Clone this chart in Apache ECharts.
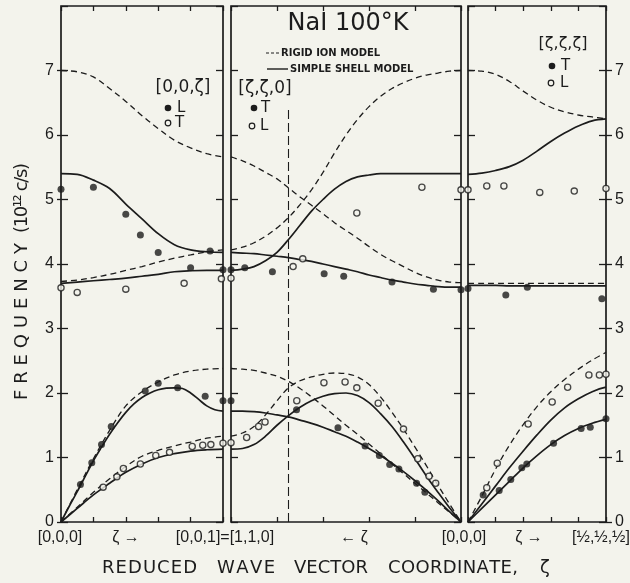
<!DOCTYPE html>
<html>
<head>
<meta charset="utf-8">
<script src="https://cdn.jsdelivr.net/npm/echarts@6/dist/echarts.min.js"></script>
<style>
  html, body { margin: 0; padding: 0; background: #f3f3ec; }
  #chart { width: 630px; height: 583px; }
</style>
</head>
<body>
<div id="chart"></div>
<script>
// NaI at 100 K: phonon dispersion along [0,0,ζ], [ζ,ζ,0] and [ζ,ζ,ζ]
// Curves: rigid ion model (dashed) and simple shell model (solid); points: measured.

// ---------- [0,0,ζ] ----------
const zeta100 = [0, 0.1, 0.2, 0.3, 0.4, 0.5, 0.6, 0.7, 0.8, 0.9, 1.0];
const lo100Rigid = [7.0, 6.98, 6.9, 6.72, 6.52, 6.3, 6.1, 5.92, 5.8, 5.71, 5.66];
const lo100Shell = [5.4, 5.39, 5.3, 5.17, 4.93, 4.70, 4.47, 4.30, 4.22, 4.19, 4.18];
const to100Rigid = [3.73, 3.75, 3.79, 3.84, 3.9, 3.96, 4.03, 4.09, 4.14, 4.19, 4.22];
const to100Shell = [3.70, 3.72, 3.74, 3.76, 3.78, 3.81, 3.84, 3.88, 3.895, 3.90, 3.90];
const la100Rigid = [0, 0.5, 0.98, 1.42, 1.8, 2.02, 2.17, 2.28, 2.34, 2.37, 2.38];
const ta100Rigid = [0, 0.23, 0.46, 0.67, 0.86, 1.02, 1.11, 1.18, 1.24, 1.30, 1.33];
const ta100Shell = [0, 0.21, 0.42, 0.6, 0.77, 0.9, 1.0, 1.06, 1.1, 1.12, 1.13];
const zeta100Fine = [0, 0.05, 0.1, 0.15, 0.2, 0.25, 0.3, 0.35, 0.4, 0.45, 0.5,
                     0.55, 0.6, 0.65, 0.7, 0.75, 0.8, 0.85, 0.9, 0.95, 1.0];
const la100Shell = [0, 0.24, 0.47, 0.71, 0.95, 1.16, 1.36, 1.54, 1.7, 1.83, 1.93,
                    2.0, 2.05, 2.075, 2.08, 2.07, 2.0, 1.9, 1.8, 1.74, 1.72];
const meas100LongZeta = [0.0, 0.2, 0.4, 0.49, 0.6, 0.8, 0.92, 1.0,
                         0.12, 0.19, 0.25, 0.31, 0.52, 0.6, 0.72, 0.89, 1.0];
const meas100LongFreq = [5.16, 5.19, 4.77, 4.45, 4.18, 3.94, 4.20, 3.91,
                         0.58, 0.92, 1.2, 1.48, 2.03, 2.15, 2.08, 1.95, 1.88];
const meas100TransZeta = [0.0, 0.1, 0.4, 0.76, 0.99,
                          0.26, 0.345, 0.385, 0.49, 0.585, 0.67, 0.81, 0.875, 0.925, 1.0];
const meas100TransFreq = [3.63, 3.56, 3.61, 3.70, 3.77,
                          0.54, 0.70, 0.83, 0.90, 1.03, 1.08, 1.17, 1.19, 1.20, 1.22];

// ---------- [ζ,ζ,0] (ζ runs from 1 down to 0) ----------
const zeta110 = [1.0, 0.95, 0.9, 0.85, 0.8, 0.75, 0.7, 0.65, 0.6, 0.55, 0.5,
                 0.45, 0.4, 0.35, 0.3, 0.25, 0.2, 0.15, 0.1, 0.05, 0];
const lo110Rigid = [4.22, 4.26, 4.33, 4.43, 4.56, 4.72, 4.92, 5.15, 5.42, 5.72, 6.0,
                    6.24, 6.44, 6.6, 6.72, 6.81, 6.88, 6.93, 6.96, 6.99, 7.0];
const to110Rigid = [5.66, 5.6, 5.52, 5.42, 5.32, 5.18, 5.04, 4.91, 4.78, 4.64, 4.52,
                    4.4, 4.27, 4.15, 4.05, 3.96, 3.87, 3.8, 3.75, 3.72, 3.71];
const lo110Shell = [3.90, 3.92, 3.96, 4.05, 4.18, 4.38, 4.6, 4.82, 5.0, 5.16, 5.28,
                    5.35, 5.38, 5.4, 5.4, 5.4, 5.4, 5.4, 5.4, 5.4, 5.4];
const to110Shell = [4.18, 4.17, 4.16, 4.14, 4.12, 4.10, 4.07, 4.04, 4.0, 3.96, 3.92,
                    3.88, 3.83, 3.79, 3.75, 3.72, 3.69, 3.67, 3.65, 3.64, 3.64];
const la110Rigid = [1.33, 1.38, 1.48, 1.66, 1.88, 2.08, 2.19, 2.25, 2.29, 2.31, 2.3,
                    2.25, 2.13, 1.94, 1.7, 1.44, 1.16, 0.87, 0.57, 0.28, 0];
const ta110Rigid = [2.38, 2.37, 2.35, 2.31, 2.26, 2.18, 2.07, 1.94, 1.8, 1.65, 1.5,
                    1.36, 1.21, 1.06, 0.9, 0.75, 0.6, 0.45, 0.3, 0.15, 0];
const la110Shell = [1.13, 1.14, 1.2, 1.33, 1.5, 1.65, 1.78, 1.88, 1.95, 1.99, 2.0,
                    1.96, 1.85, 1.68, 1.48, 1.24, 0.98, 0.71, 0.46, 0.22, 0];
const ta110Shell = [1.72, 1.72, 1.71, 1.69, 1.66, 1.63, 1.58, 1.53, 1.47, 1.4, 1.33,
                    1.24, 1.14, 1.03, 0.91, 0.78, 0.64, 0.49, 0.33, 0.16, 0];
const meas110TransZeta = [1.0, 0.94, 0.82, 0.595, 0.51, 0.3, 0.12, 0.0,
                          1.0, 0.715, 0.535, 0.417, 0.355, 0.31, 0.27, 0.193, 0.157];
const meas110TransFreq = [3.91, 3.94, 3.88, 3.85, 3.81, 3.72, 3.61, 3.60,
                          1.88, 1.74, 1.46, 1.18, 1.03, 0.89, 0.82, 0.6, 0.46];
const meas110LongZeta = [1.0, 0.73, 0.688, 0.453, 0.17, 0.0,
                         1.0, 0.932, 0.88, 0.852, 0.714, 0.596, 0.504, 0.453, 0.36, 0.25, 0.188, 0.139, 0.11];
const meas110LongFreq = [3.78, 3.96, 4.08, 4.79, 5.19, 5.15,
                         1.23, 1.31, 1.48, 1.55, 1.88, 2.16, 2.17, 2.08, 1.84, 1.44, 0.98, 0.71, 0.60];
const zoneEdgeZeta = 0.75;   // K point marker
const zoneEdgeTop = 6.4;

// ---------- [ζ,ζ,ζ] ----------
const zeta111 = [0, 0.05, 0.1, 0.15, 0.2, 0.25, 0.3, 0.35, 0.4, 0.45, 0.5];
const lo111Rigid = [7.0, 6.99, 6.94, 6.83, 6.68, 6.54, 6.43, 6.36, 6.31, 6.28, 6.25];
const lo111Shell = [5.39, 5.41, 5.45, 5.51, 5.61, 5.75, 5.9, 6.03, 6.14, 6.22, 6.25];
const to111Rigid = [3.70, 3.70, 3.70, 3.70, 3.70, 3.70, 3.70, 3.70, 3.70, 3.70, 3.70];
const to111Shell = [3.67, 3.67, 3.67, 3.66, 3.66, 3.66, 3.66, 3.66, 3.66, 3.66, 3.66];
const la111Rigid = [0, 0.4, 0.82, 1.19, 1.51, 1.79, 2.02, 2.21, 2.37, 2.51, 2.63];
const la111Shell = [0, 0.28, 0.56, 0.84, 1.1, 1.35, 1.58, 1.77, 1.91, 2.02, 2.09];
const ta111Shell = [0, 0.21, 0.42, 0.63, 0.84, 1.03, 1.2, 1.34, 1.45, 1.53, 1.59];
const meas111TransZeta = [0.0, 0.137, 0.215, 0.485,
                          0.055, 0.113, 0.155, 0.195, 0.213, 0.31, 0.41, 0.443, 0.5];
const meas111TransFreq = [3.62, 3.52, 3.64, 3.46,
                          0.42, 0.49, 0.66, 0.84, 0.9, 1.22, 1.45, 1.47, 1.6];
const meas111LongZeta = [0.0, 0.068, 0.13, 0.26, 0.385, 0.5,
                         0.068, 0.106, 0.218, 0.305, 0.361, 0.438, 0.476, 0.5];
const meas111LongFreq = [5.15, 5.21, 5.21, 5.11, 5.13, 5.17,
                         0.53, 0.91, 1.52, 1.86, 2.09, 2.28, 2.28, 2.29];

// ---------- texts ----------
const titleText = 'NaI 100°K';
const legendRigid = 'RIGID ION MODEL';
const legendShell = 'SIMPLE SHELL MODEL';
const pointLabels = ['[0,0,0]', 'ζ →', '[0,0,1]=[1,1,0]', '← ζ', '[0,0,0]', 'ζ →', '[½,½,½]'];
const yTitleParts = ['FREQUENCY', '(10¹² c/s)'];
const xTitleWords = ['REDUCED', 'WAVE', 'VECTOR', 'COORDINATE,', 'ζ'];

// ---------- drawing ----------
const ink = '#1c1c1c';
const paper = '#f3f3ec';
const chart = echarts.init(document.getElementById('chart'), null, { renderer: 'canvas' });

const grids = [
  { left: 61, top: 6, width: 162, height: 516 },
  { left: 231, top: 6, width: 230, height: 516 },
  { left: 468, top: 6, width: 138, height: 516 }
].map(g => Object.assign(g, { show: true, borderColor: ink, borderWidth: 1.7, backgroundColor: 'transparent' }));

const xSpec = [
  { min: 0, max: 1, interval: 0.2, inverse: false },
  { min: 0, max: 1, interval: 0.2, inverse: true },
  { min: 0, max: 0.5, interval: 0.1, inverse: false }
];
const xAxes = [];
xSpec.forEach((s, i) => {
  ['bottom', 'top'].forEach(pos => {
    xAxes.push({
      gridIndex: i, type: 'value', position: pos, min: s.min, max: s.max, interval: s.interval, inverse: s.inverse,
      axisLine: { show: false, onZero: false },
      axisTick: { show: true, inside: true, length: 5, lineStyle: { color: ink, width: 1.3 } },
      axisLabel: { show: false }, splitLine: { show: false }
    });
  });
});

function yAxisDef(gi, pos, opts) {
  return Object.assign({
    gridIndex: gi, type: 'value', position: pos, min: 0, max: 8, interval: 1,
    axisLine: { show: false, onZero: false },
    axisTick: { show: true, inside: true, length: 7, lineStyle: { color: ink, width: 1.3 } },
    axisLabel: { show: false }, splitLine: { show: false }
  }, opts || {});
}
const tickFont = { color: ink, fontSize: 16, fontFamily: 'Liberation Sans', showMaxLabel: false };
const yAxes = [
  yAxisDef(0, 'left', { axisTick: { show: true, inside: false, length: 4, lineStyle: { color: ink, width: 1.3 } },
                        axisLabel: Object.assign({ show: true, margin: 7 }, tickFont) }),
  yAxisDef(0, 'left'),
  yAxisDef(0, 'right'),
  yAxisDef(1, 'left'),
  yAxisDef(1, 'right'),
  yAxisDef(2, 'left'),
  yAxisDef(2, 'right'),
  yAxisDef(2, 'right', { axisTick: { show: true, inside: false, length: 6, lineStyle: { color: ink, width: 1.3 } },
                         axisLabel: Object.assign({ show: true, margin: 9 }, tickFont) })
];
const xIdx = [0, 2, 4];
const yIdx = [1, 3, 5];

const zip = (xs, ys) => xs.map((x, i) => [x, ys[i]]);

function curve(gi, xs, ys, dashed) {
  return {
    type: 'line', xAxisIndex: xIdx[gi], yAxisIndex: yIdx[gi], data: zip(xs, ys),
    smooth: 0.35, symbol: 'none', silent: true, z: 2,
    lineStyle: dashed ? { color: ink, width: 1.3, type: [6, 4] } : { color: ink, width: 1.7 }
  };
}
function dots(gi, xs, ys, filled) {
  return {
    type: 'scatter', xAxisIndex: xIdx[gi], yAxisIndex: yIdx[gi], data: zip(xs, ys),
    symbol: 'circle', symbolSize: filled ? 7 : 6.2, clip: false, silent: true, z: 5,
    itemStyle: filled ? { color: ink } : { color: paper, borderColor: ink, borderWidth: 1.3 }
  };
}

const series = [
  curve(0, zeta100, lo100Rigid, true), curve(0, zeta100, lo100Shell, false),
  curve(0, zeta100, to100Rigid, true), curve(0, zeta100, to100Shell, false),
  curve(0, zeta100, la100Rigid, true), curve(0, zeta100Fine, la100Shell, false),
  curve(0, zeta100, ta100Rigid, true), curve(0, zeta100, ta100Shell, false),
  dots(0, meas100LongZeta, meas100LongFreq, true), dots(0, meas100TransZeta, meas100TransFreq, false),

  curve(1, zeta110, lo110Rigid, true), curve(1, zeta110, to110Rigid, true),
  curve(1, zeta110, lo110Shell, false), curve(1, zeta110, to110Shell, false),
  curve(1, zeta110, la110Rigid, true), curve(1, zeta110, ta110Rigid, true),
  curve(1, zeta110, la110Shell, false), curve(1, zeta110, ta110Shell, false),
  dots(1, meas110TransZeta, meas110TransFreq, true), dots(1, meas110LongZeta, meas110LongFreq, false),
  {
    type: 'line', xAxisIndex: xIdx[1], yAxisIndex: yIdx[1], symbol: 'none', silent: true, z: 1,
    data: [[zoneEdgeZeta, 0], [zoneEdgeZeta, zoneEdgeTop]],
    lineStyle: { color: ink, width: 1.1, type: [9, 4] }
  },

  curve(2, zeta111, lo111Rigid, true), curve(2, zeta111, lo111Shell, false),
  curve(2, zeta111, to111Rigid, true), curve(2, zeta111, to111Shell, false),
  curve(2, zeta111, la111Rigid, true), curve(2, zeta111, la111Shell, false),
  curve(2, zeta111, ta111Shell, false),
  dots(2, meas111TransZeta, meas111TransFreq, true), dots(2, meas111LongZeta, meas111LongFreq, false)
];

// Letter-spaced text laid out character by character between two points.
const measureCtx = document.createElement('canvas').getContext('2d');
function spacedText(str, font, start, end, fixed, vertical) {
  measureCtx.font = font;
  const chars = Array.from(str);
  const widths = chars.map(c => measureCtx.measureText(c).width);
  const total = widths.reduce((a, b) => a + b, 0);
  const gap = chars.length > 1 ? (Math.abs(end - start) - total) / (chars.length - 1) : 0;
  const out = [];
  let p = 0;
  chars.forEach((c, i) => {
    if (c !== ' ') {
      const style = { text: c, font: font, fill: ink, textAlign: 'left', textVerticalAlign: 'middle' };
      out.push(vertical
        ? { type: 'text', x: fixed, y: start - p, rotation: Math.PI / 2, style: style, silent: true }
        : { type: 'text', x: start + p, y: fixed, style: style, silent: true });
    }
    p += widths[i] + gap;
  });
  return out;
}

function txt(x, y, text, font, align) {
  return { type: 'text', x: x, y: y, silent: true,
           style: { text: text, font: font, fill: ink, textAlign: align || 'center', textVerticalAlign: 'middle' } };
}
function disc(x, y, filled) {
  return { type: 'circle', shape: { cx: x, cy: y, r: filled ? 3.3 : 2.8 }, silent: true,
           style: filled ? { fill: ink } : { fill: paper, stroke: ink, lineWidth: 1.2 } };
}

const labelFont = '16px "Liberation Sans"';
const keyFont = '17px "DejaVu Sans"';
const letterFont = '15px "DejaVu Sans"';
const graphics = [
  txt(348, 24, titleText, '24px "DejaVu Sans"'),
  { type: 'line', shape: { x1: 266, y1: 53, x2: 279, y2: 53 }, silent: true,
    style: { stroke: ink, lineWidth: 1.1, lineDash: [3, 2] } },
  txt(281, 53, legendRigid, 'bold 10px "DejaVu Sans"', 'left'),
  { type: 'line', shape: { x1: 267, y1: 69, x2: 288, y2: 69 }, silent: true,
    style: { stroke: ink, lineWidth: 1.4 } },
  txt(290, 69, legendShell, 'bold 10px "DejaVu Sans"', 'left'),

  txt(183, 88, '[0,0,ζ]', keyFont),
  disc(168, 108, true), txt(177, 108, 'L', letterFont, 'left'),
  disc(168, 123, false), txt(175, 123, 'T', letterFont, 'left'),

  txt(265, 89, '[ζ,ζ,0]', keyFont),
  disc(254, 108, true), txt(261, 108, 'T', letterFont, 'left'),
  disc(252, 126, false), txt(260, 126, 'L', letterFont, 'left'),

  txt(563, 44, '[ζ,ζ,ζ]', '16px "DejaVu Sans"'),
  disc(552, 66, true), txt(561, 66, 'T', letterFont, 'left'),
  disc(551, 83, false), txt(560, 83, 'L', letterFont, 'left'),

  txt(60, 538, pointLabels[0], labelFont),
  txt(126, 538, pointLabels[1], labelFont),
  txt(225, 538, pointLabels[2], labelFont),
  txt(354, 538, pointLabels[3], labelFont),
  txt(464, 538, pointLabels[4], labelFont),
  txt(529, 538, pointLabels[5], labelFont),
  txt(601, 538, pointLabels[6], labelFont)
];

const titleFont = '18px "DejaVu Sans"';
const xWordSpans = [[102, 197], [217, 275], [294, 368], [388, 518], [540, 552]];
xTitleWords.forEach((w, i) => {
  graphics.push(...spacedText(w, titleFont, xWordSpans[i][0], xWordSpans[i][1], 568, false));
});
graphics.push(...spacedText(yTitleParts[0], titleFont, 400, 243, 22, true));
graphics.push(...spacedText(yTitleParts[1], titleFont, 233, 163, 22, true));

chart.setOption({
  backgroundColor: paper,
  animation: false,
  grid: grids,
  xAxis: xAxes,
  yAxis: yAxes,
  series: series,
  graphic: { elements: graphics }
});
</script>
</body>
</html>
